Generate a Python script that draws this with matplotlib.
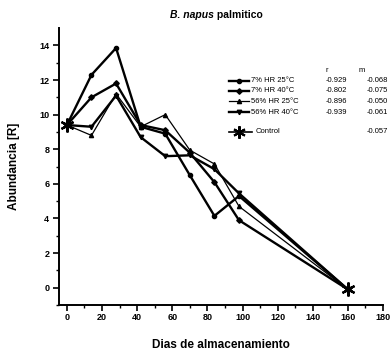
import matplotlib
matplotlib.use("Agg")
import matplotlib.pyplot as plt
from matplotlib.lines import Line2D

plt.rcParams['font.family'] = ['Liberation Sans', 'DejaVu Sans']

# storage days and abundance for each condition
dias = [0, 14, 28, 42, 56, 70, 84, 98, 160]
hr7_25 = [9.4, 12.3, 13.85, 9.3, 8.9, 6.5, 4.15, 5.3, -0.1]
hr7_40 = [9.4, 11.0, 11.8, 9.4, 9.1, 7.8, 6.1, 3.9, -0.1]
hr56_25 = [9.4, 8.8, 11.2, 9.3, 10.0, 7.95, 7.15, 4.7, -0.1]
hr56_40 = [9.4, 9.3, 11.1, 8.7, 7.6, 7.65, 6.85, 5.45, -0.1]
control_dias = [0, 160]
control = [9.4, -0.1]

labels = ['7% HR 25°C', '7% HR 40°C', '56% HR 25°C', '56% HR 40°C', 'Control']
r_vals = ['-0.929', '-0.802', '-0.896', '-0.939', '']
m_vals = ['-0.068', '-0.075', '-0.050', '-0.061', '-0.057']

star = (6, 2, 0)
styles = [
    dict(marker='o', ms=3, lw=1.7),
    dict(marker='D', ms=2.8, lw=1.7),
    dict(marker='^', ms=3, lw=0.9),
    dict(marker='v', ms=3.2, lw=1.7),
]

fig = plt.figure(figsize=(3.92, 3.55), dpi=100)
ax = fig.add_axes([0.1505, 0.1408, 0.8265, 0.780])

for ys, st in zip([hr7_25, hr7_40, hr56_25, hr56_40], styles):
    ax.plot(dias, ys, color='black', mfc='black', mec='black', **st)
ax.plot(control_dias, control, ls='none', marker=star, ms=10, mew=1.6, color='black')

ax.set_xlim(-4.5, 180)
ax.set_ylim(-0.8, 15)
ax.set_xticks(range(0, 181, 20))
ax.set_xticks(range(0, 181, 10), minor=True)
ax.set_yticks(range(0, 15, 2))
ax.set_yticks(range(-1, 15, 1), minor=True)
for s in ['top', 'right']:
    ax.spines[s].set_visible(False)
for s in ['left', 'bottom']:
    ax.spines[s].set_linewidth(1.4)
ax.tick_params(which='major', length=4, width=1.2, labelsize=6.5, pad=3)
ax.tick_params(axis='x', which='major', pad=2)
ax.tick_params(which='minor', length=2, width=1.0)
for lab in ax.get_xticklabels() + ax.get_yticklabels():
    lab.set_fontweight('bold')

ax.set_xlabel('Dias de almacenamiento', fontsize=8.5, fontweight='bold', labelpad=12)
ax.set_ylabel('Abundancia [R]', fontsize=8.5, fontweight='bold', labelpad=14)

# title: species in italics
t1 = fig.text(0.434, 0.958, 'B. napus', fontsize=7.5, fontweight='bold',
              fontstyle='italic', ha='left', va='center')
fig.canvas.draw()
ax.annotate(' palmitico', xy=(1, 0.5), xycoords=t1, fontsize=7.5,
            fontweight='bold', ha='left', va='center')

# hand-built legend with r and m columns
W, H = 392, 355
fx = lambda px: px / W
fy = lambda py: 1 - py / H
fig.text(fx(327), fy(71), 'r', fontsize=5.5, ha='center', va='center')
fig.text(fx(362), fy(71), 'm', fontsize=5.5, ha='center', va='center')
rows = [81, 91, 101, 112, 132]
for i, lab in enumerate(labels):
    y = fy(rows[i])
    if i < 4:
        st = styles[i]
        h = Line2D([fx(229), fx(239), fx(249)], [y, y, y], color='black',
                   marker=st['marker'], ms=st['ms'], lw=st['lw'], markevery=[1],
                   transform=fig.transFigure)
    else:
        h = Line2D([fx(229), fx(239), fx(252)], [y, y, y], color='black', marker=star,
                   ms=9, mew=1.5, lw=1.2, markevery=[1], transform=fig.transFigure)
    fig.add_artist(h)
    fig.text(fx(251 if i < 4 else 256), y, lab, fontsize=5.5, ha='left', va='center')
    if r_vals[i]:
        fig.text(fx(347), y, r_vals[i], fontsize=5.5, ha='right', va='center')
    fig.text(fx(388), y, m_vals[i], fontsize=5.5, ha='right', va='center')

fig.savefig('out.png', dpi=100)
